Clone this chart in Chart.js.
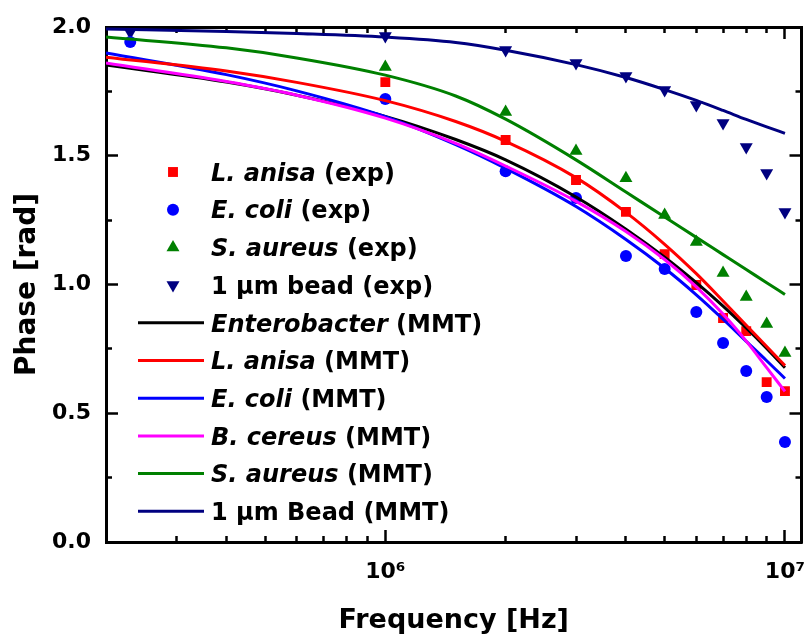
<!DOCTYPE html>
<html>
<head>
<meta charset="utf-8">
<script src="https://cdn.jsdelivr.net/npm/chart.js@4.4.1/dist/chart.umd.min.js"></script>
<style>
  html, body { margin: 0; padding: 0; background: #fff; }
  #chart { display: block; }
</style>
</head>
<body>
<canvas id="chart" width="809" height="641"></canvas>
<script>
// measured points (exp)
const expFreq = [1e6, 2e6, 3e6, 4e6, 5e6, 6e6, 7e6, 8e6, 9e6, 1e7];
const expFreqLow = [2.3e5, 1e6, 2e6, 3e6, 4e6, 5e6, 6e6, 7e6, 8e6, 9e6, 1e7];
const anisaExp  = [1.786, 1.561, 1.406, 1.282, 1.118, 0.998, 0.870, 0.819, 0.621, 0.586];
const coliExp   = [1.942, 1.720, 1.440, 1.336, 1.111, 1.060, 0.893, 0.773, 0.664, 0.563, 0.388];
const aureusExp = [1.845, 1.670, 1.518, 1.413, 1.270, 1.165, 1.045, 0.951, 0.847, 0.734];
const beadExp   = [1.980, 1.965, 1.911, 1.860, 1.810, 1.755, 1.697, 1.627, 1.534, 1.433, 1.282];

// model curves (MMT)
const mmtFreq   = [2e5, 4e5, 6e5, 1e6, 1.5e6, 2e6, 3e6, 4e6, 5e6, 6e6, 7e6, 8e6, 9e6, 1e7];
const enteroMMT = [1.852, 1.786, 1.735, 1.653, 1.563, 1.484, 1.340, 1.215, 1.106, 1.007, 0.916, 0.831, 0.752, 0.677];
const anisaMMT  = [1.883, 1.829, 1.785, 1.714, 1.633, 1.556, 1.415, 1.280, 1.156, 1.042, 0.936, 0.842, 0.759, 0.685];
const coliMMT   = [1.899, 1.815, 1.752, 1.652, 1.543, 1.451, 1.303, 1.175, 1.063, 0.960, 0.865, 0.779, 0.704, 0.635];
const cereusMMT = [1.860, 1.788, 1.735, 1.646, 1.548, 1.460, 1.323, 1.206, 1.097, 0.991, 0.885, 0.780, 0.677, 0.585];
const aureusMMT = [1.961, 1.919, 1.880, 1.813, 1.732, 1.642, 1.484, 1.359, 1.262, 1.183, 1.116, 1.058, 1.007, 0.961];
const beadMMT   = [1.992, 1.983, 1.975, 1.961, 1.940, 1.910, 1.854, 1.804, 1.757, 1.715, 1.676, 1.641, 1.612, 1.587];

// axes
const xMin = 2e5, xMax = 1.1e7;
const xMajorTicks = [1e6, 1e7];
const xTickLabels = ['10\u2076', '10\u2077'];
const xMinorTicks = [3e5, 4e5, 5e5, 6e5, 7e5, 8e5, 9e5, 2e6, 3e6, 4e6, 5e6, 6e6, 7e6, 8e6, 9e6];
const yMajorTicks = [0, 0.5, 1.0, 1.5, 2.0];
const yMinorTicks = [0.25, 0.75, 1.25, 1.75];

const FONT = '"DejaVu Sans", sans-serif';

const pts = (xs, ys) => xs.map((x, i) => ({ x: x, y: ys[i] }));

function expSet(parts, xs, ys, color, style, rot, r) {
  return {
    labelParts: parts, data: pts(xs, ys), showLine: false, order: 10,
    pointStyle: style, rotation: rot, pointRadius: r, pointHoverRadius: r,
    backgroundColor: color, borderColor: color, pointBorderWidth: 0
  };
}
function mmtSet(parts, ys, color, order) {
  return {
    labelParts: parts, data: pts(mmtFreq, ys), showLine: true, order: order,
    borderColor: color, backgroundColor: color, borderWidth: 3,
    pointRadius: 0, pointHoverRadius: 0, cubicInterpolationMode: 'monotone'
  };
}

const datasets = [
  expSet([['L. anisa', true], [' (exp)', false]], expFreq, anisaExp, '#ff0000', 'rect', 0, 7),
  expSet([['E. coli', true], [' (exp)', false]], expFreqLow, coliExp, '#0000ff', 'circle', 0, 6),
  expSet([['S. aureus', true], [' (exp)', false]], expFreq, aureusExp, '#008000', 'triangle', 0, 7.5),
  expSet([['1 \u00b5m bead (exp)', false]], expFreqLow, beadExp, '#000080', 'triangle', 180, 7.5),
  mmtSet([['Enterobacter', true], [' (MMT)', false]], enteroMMT, '#000000', 6),
  mmtSet([['L. anisa', true], [' (MMT)', false]], anisaMMT, '#ff0000', 3),
  mmtSet([['E. coli', true], [' (MMT)', false]], coliMMT, '#0000ff', 5),
  mmtSet([['B. cereus', true], [' (MMT)', false]], cereusMMT, '#ff00ff', 4),
  mmtSet([['S. aureus', true], [' (MMT)', false]], aureusMMT, '#008000', 2),
  mmtSet([['1 \u00b5m Bead (MMT)', false]], beadMMT, '#000080', 1)
];

const setTicks = values => scale => { scale.ticks = values.map(v => ({ value: v })); };
const pinSize = (prop, size) => scale => {
  scale[prop] = size;
  scale.paddingLeft = scale.paddingRight = scale.paddingTop = scale.paddingBottom = 0;
};
const tickGrid = len => ({ drawOnChartArea: false, drawTicks: true, tickLength: -len, tickWidth: 2.5, tickColor: '#000' });
const border = { color: '#000', width: 3 };
const noLabels = { display: false };

function logAxis(pos, weight, ticks, len, size, extra) {
  return Object.assign({
    type: 'logarithmic', axis: 'x', position: pos, weight: weight, min: xMin, max: xMax,
    afterBuildTicks: setTicks(ticks), afterFit: pinSize('height', size),
    grid: tickGrid(len), border: border, ticks: noLabels
  }, extra || {});
}
function linAxis(pos, weight, ticks, len, size, extra) {
  return Object.assign({
    type: 'linear', axis: 'y', position: pos, weight: weight, min: 0, max: 2,
    afterBuildTicks: setTicks(ticks), afterFit: pinSize('width', size),
    grid: tickGrid(len), border: border, ticks: noLabels
  }, extra || {});
}

function drawMarker(ctx, style, rot, r, x, y) {
  ctx.beginPath();
  if (style === 'rect') {
    const s = r * Math.SQRT1_2;
    ctx.rect(x - s, y - s, 2 * s, 2 * s);
  } else if (style === 'circle') {
    ctx.arc(x, y, r, 0, Math.PI * 2);
  } else {
    let a = rot * Math.PI / 180;
    for (let k = 0; k < 3; k++) {
      const px = x + Math.sin(a) * r, py = y - Math.cos(a) * r;
      k === 0 ? ctx.moveTo(px, py) : ctx.lineTo(px, py);
      a += Math.PI * 2 / 3;
    }
    ctx.closePath();
  }
  ctx.fill();
}

// legend with italic species names
const mixedLegend = {
  id: 'mixedLegend',
  afterDraw(chart) {
    const ctx = chart.ctx;
    const x0 = 173, textX = 211, y0 = 172, step = 37.7, size = 24;
    ctx.save();
    chart.data.datasets.forEach((ds, i) => {
      const y = y0 + i * step;
      ctx.fillStyle = ds.backgroundColor;
      ctx.strokeStyle = ds.borderColor;
      if (ds.showLine) {
        ctx.lineWidth = 3;
        ctx.beginPath();
        ctx.moveTo(138, y);
        ctx.lineTo(204, y);
        ctx.stroke();
      } else {
        drawMarker(ctx, ds.pointStyle, ds.rotation, ds.pointRadius, x0, y);
      }
      let tx = textX;
      ctx.fillStyle = '#000';
      ctx.textBaseline = 'alphabetic';
      ds.labelParts.forEach(([txt, ital]) => {
        ctx.font = (ital ? 'italic ' : '') + 'bold ' + size + 'px ' + FONT;
        ctx.fillText(txt, tx, y + size * 0.729 / 2);
        tx += ctx.measureText(txt).width;
      });
    });
    ctx.restore();
  }
};

new Chart(document.getElementById('chart'), {
  type: 'scatter',
  data: { datasets: datasets },
  plugins: [mixedLegend],
  options: {
    responsive: false,
    animation: false,
    layout: { padding: { top: 27, right: 4, left: 0, bottom: 0 } },
    plugins: { legend: { display: false }, tooltip: { enabled: false } },
    scales: {
      x: logAxis('bottom', 1, xMajorTicks, 12, 99, {
        ticks: {
          autoSkip: false, maxRotation: 0, padding: 29, color: '#000',
          font: { family: FONT, size: 22, weight: 'bold' },
          callback: v => { const k = xMajorTicks.indexOf(v); return k < 0 ? '' : xTickLabels[k]; }
        },
        title: {
          display: true, text: 'Frequency [Hz]', color: '#000',
          font: { family: FONT, size: 27, weight: 'bold' }, padding: { top: 0, bottom: 4 }
        }
      }),
      xMinor: logAxis('bottom', 0, xMinorTicks, 6, 0),
      xTop: logAxis('top', 1, xMajorTicks, 12, 0),
      xTopMinor: logAxis('top', 0, xMinorTicks, 6, 0),
      y: linAxis('left', 1, yMajorTicks, 12, 106, {
        ticks: {
          padding: 27, color: '#000',
          font: { family: FONT, size: 22, weight: 'bold' },
          callback: v => Number(v).toFixed(1)
        },
        title: {
          display: true, text: 'Phase [rad]', color: '#000',
          font: { family: FONT, size: 28, weight: 'bold' }, padding: { top: 11, bottom: 0 }
        }
      }),
      yMinor: linAxis('left', 0, yMinorTicks, 6, 0),
      yRight: linAxis('right', 1, yMajorTicks, 12, 0),
      yRightMinor: linAxis('right', 0, yMinorTicks, 6, 0)
    }
  }
});
</script>
</body>
</html>
